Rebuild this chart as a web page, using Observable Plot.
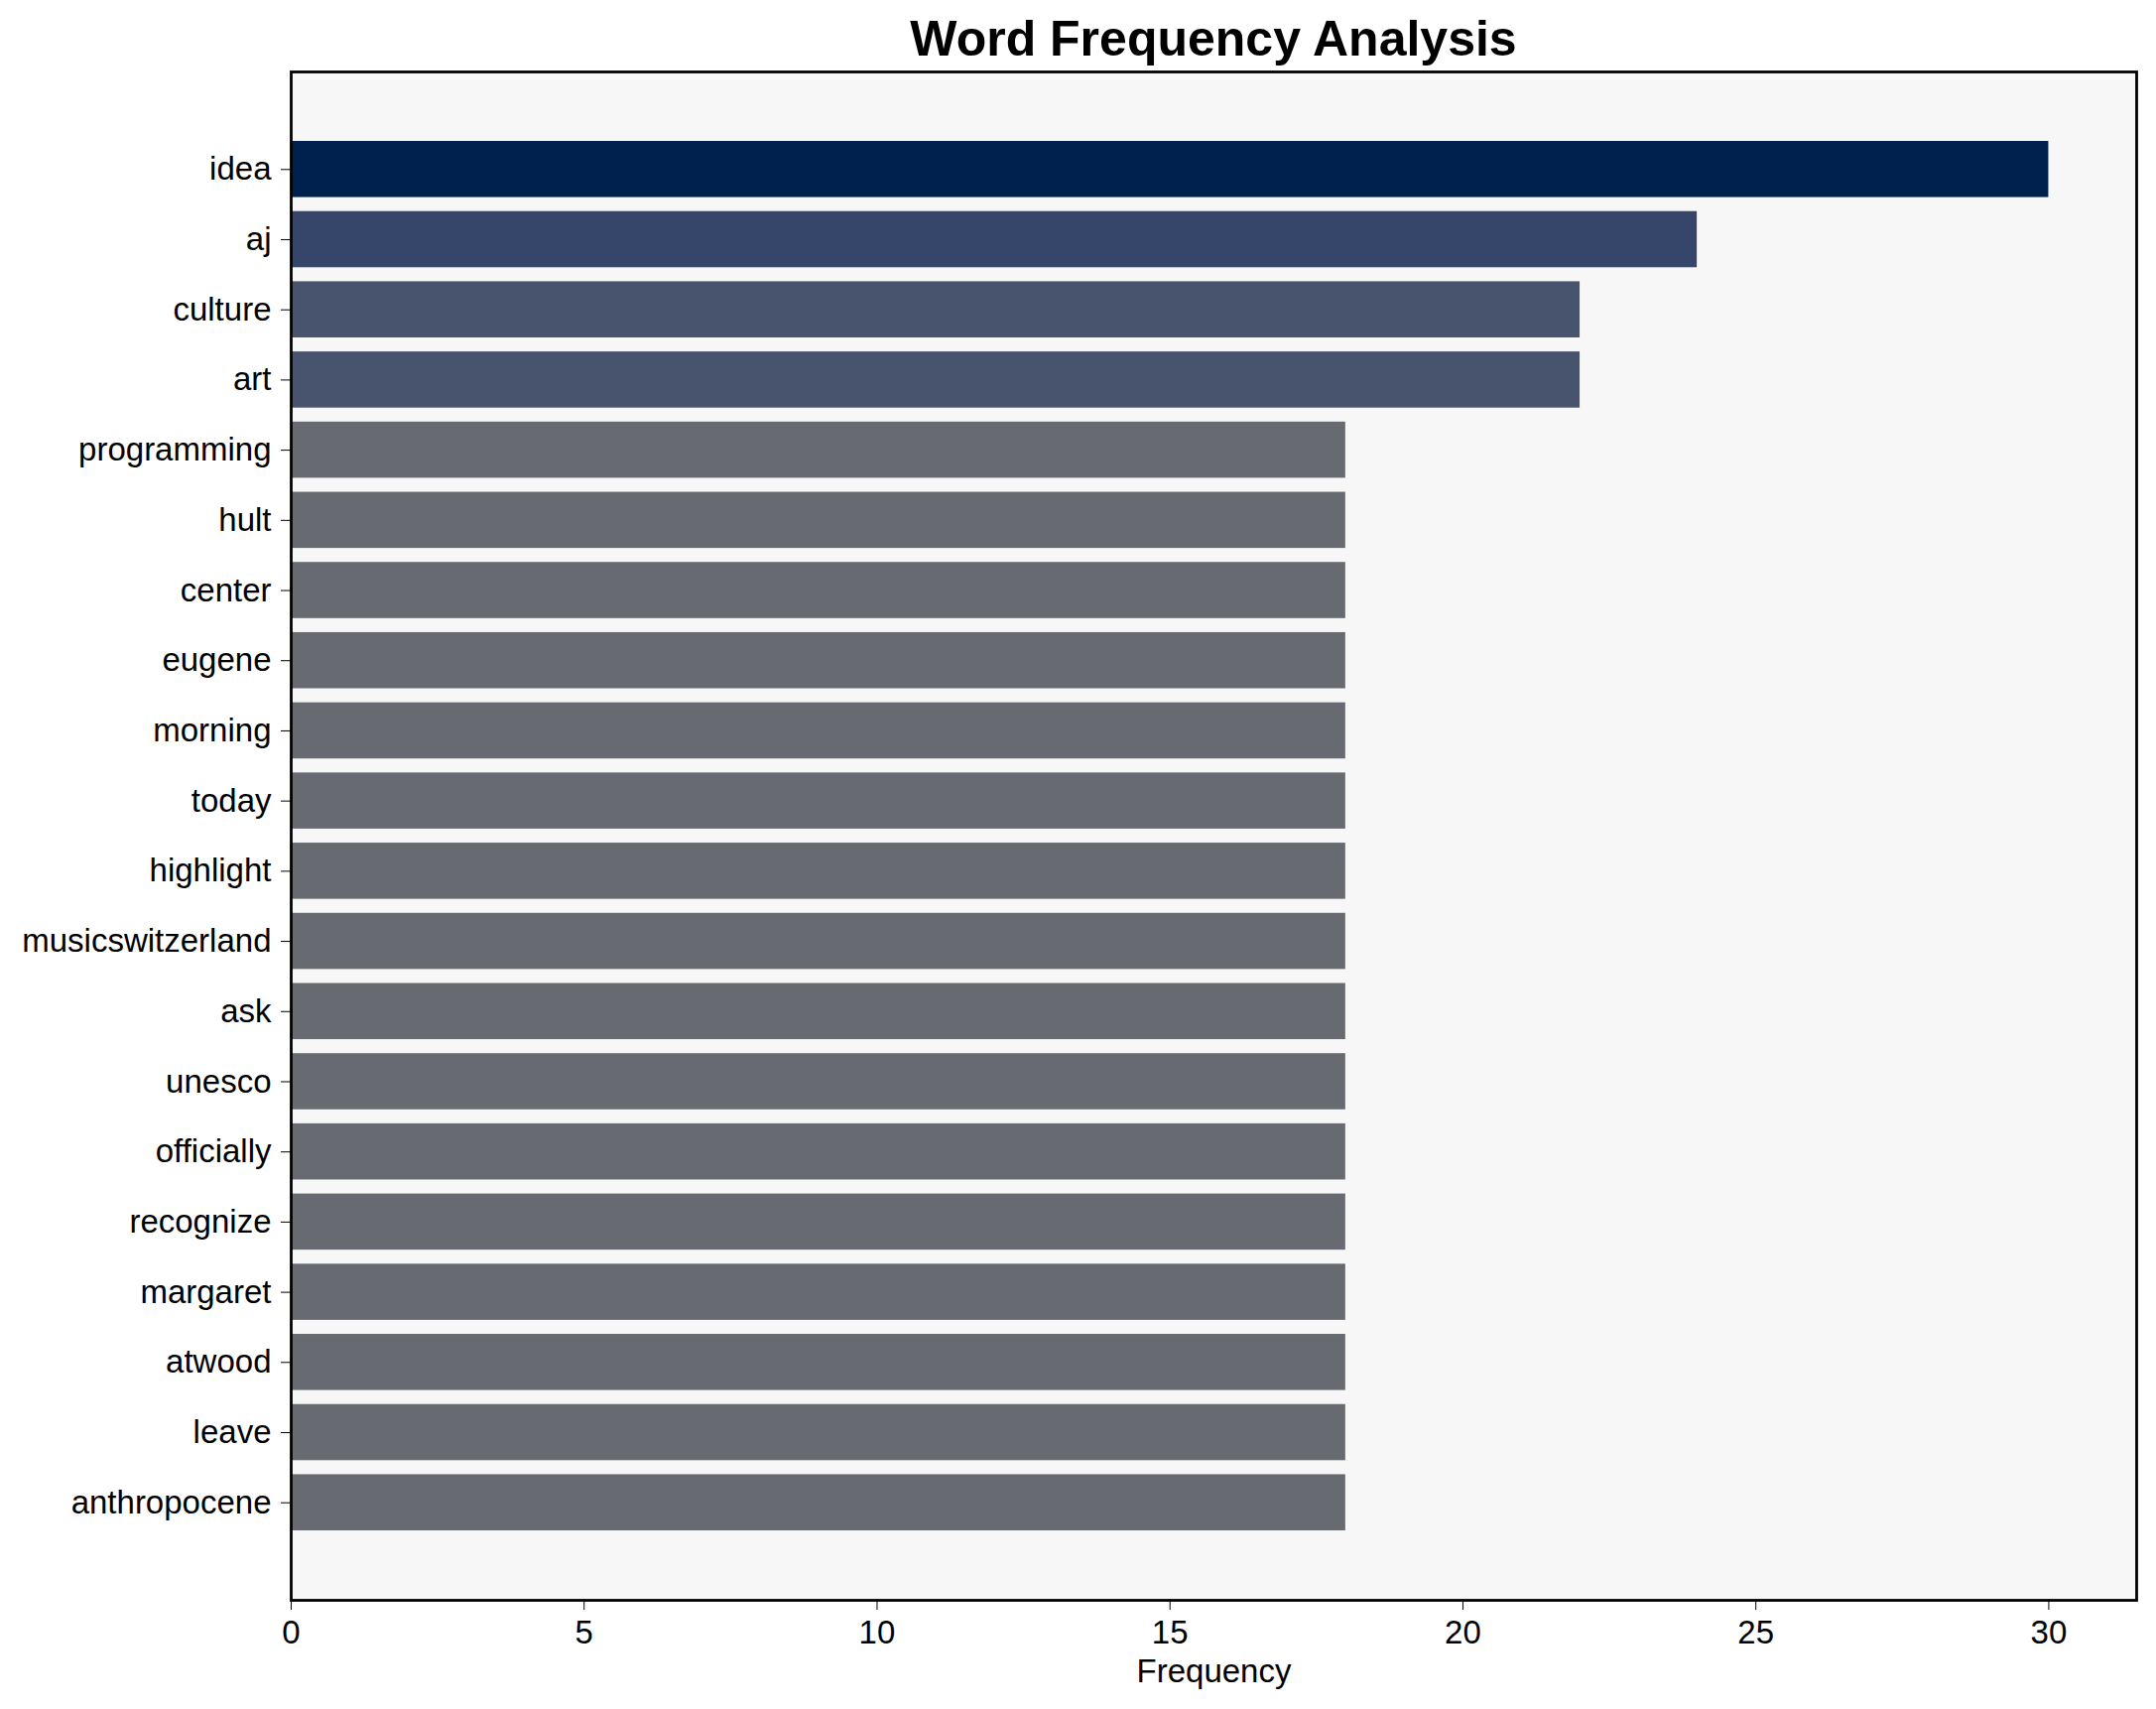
<!DOCTYPE html>
<html>
<head>
<meta charset="utf-8">
<script src="https://cdn.jsdelivr.net/npm/d3@7"></script>
<script src="https://cdn.jsdelivr.net/npm/@observablehq/plot@0.6"></script>
<style>
  html, body { margin: 0; padding: 0; background: #ffffff; }
  body { width: 2173px; height: 1722px; overflow: hidden; font-family: "Liberation Sans", Arial, sans-serif; }
  #title { position: relative; height: 60px; width: 2173px; }
  #title span {
    position: absolute; left: 293px; width: 1860px; top: 39px; transform: translateY(-50%);
    text-align: center; font-size: 50px; font-weight: bold; color: #000; line-height: 1;
  }
  #chart svg { display: block; }
</style>
</head>
<body>
<div id="title"><span>Word Frequency Analysis</span></div>
<div id="chart"></div>
<script>
const words = ["idea", "aj", "culture", "art", "programming", "hult", "center", "eugene", "morning", "today",
  "highlight", "musicswitzerland", "ask", "unesco", "officially", "recognize", "margaret", "atwood", "leave", "anthropocene"];
const counts = [30, 24, 22, 22, 18, 18, 18, 18, 18, 18, 18, 18, 18, 18, 18, 18, 18, 18, 18, 18];
const barColors = ["#00214d", "#36466b", "#48536d", "#48536d", "#686a72", "#686a72", "#686a72", "#686a72", "#686a72", "#686a72",
  "#686a72", "#686a72", "#686a72", "#686a72", "#686a72", "#686a72", "#686a72", "#686a72", "#686a72", "#686a72"];
const xTicks = [0, 5, 10, 15, 20, 25, 30];

const data = words.map((w, i) => ({word: w, count: counts[i], color: barColors[i]}));

const chart = Plot.plot({
  width: 2173,
  height: 1662,
  marginTop: 12,
  marginBottom: 110,
  marginLeft: 293,
  marginRight: 20,
  style: {fontFamily: "'Liberation Sans', Arial, sans-serif", fontSize: "33px", color: "#000", background: "transparent"},
  x: {domain: [0, 31.5], ticks: xTicks},
  y: {domain: words, paddingInner: 0.2, paddingOuter: 0.99, align: 0.5, round: false},
  marks: [
    Plot.frame({fill: "#f7f7f7", stroke: null}),
    Plot.barX(data, {x: "count", y: "word", fill: "color"}),
    Plot.frame({stroke: "#000", strokeWidth: 2.8}),
    Plot.axisY({tickSize: 10, tickPadding: 10, tickWidth: 2.5, stroke: "#000", label: null, fontSize: 33}),
    Plot.axisX({ticks: xTicks, tickSize: 10, tickPadding: 10, tickWidth: 2.5, stroke: "#000", fontSize: 33,
      label: "Frequency", labelAnchor: "center", labelArrow: "none", labelOffset: 82})
  ]
});
document.getElementById("chart").appendChild(chart);
</script>
</body>
</html>
